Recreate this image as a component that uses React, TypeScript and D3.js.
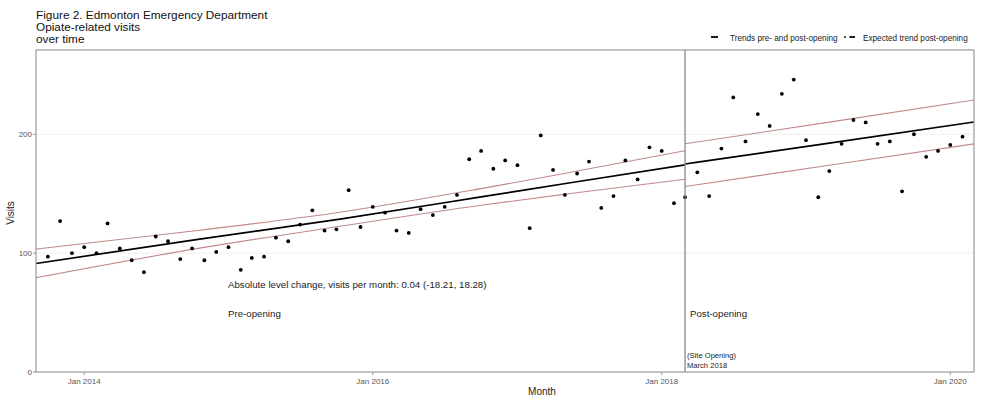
import React from "react";
import * as d3 from "d3";

// Monthly opiate-related ED visits, Oct 2013 – Feb 2020
const months: string[] = [
  "2013-10", "2013-11", "2013-12",
  "2014-01", "2014-02", "2014-03", "2014-04", "2014-05", "2014-06", "2014-07", "2014-08", "2014-09", "2014-10", "2014-11", "2014-12",
  "2015-01", "2015-02", "2015-03", "2015-04", "2015-05", "2015-06", "2015-07", "2015-08", "2015-09", "2015-10", "2015-11", "2015-12",
  "2016-01", "2016-02", "2016-03", "2016-04", "2016-05", "2016-06", "2016-07", "2016-08", "2016-09", "2016-10", "2016-11", "2016-12",
  "2017-01", "2017-02", "2017-03", "2017-04", "2017-05", "2017-06", "2017-07", "2017-08", "2017-09", "2017-10", "2017-11", "2017-12",
  "2018-01", "2018-02", "2018-03", "2018-04", "2018-05", "2018-06", "2018-07", "2018-08", "2018-09", "2018-10", "2018-11", "2018-12",
  "2019-01", "2019-02", "2019-03", "2019-04", "2019-05", "2019-06", "2019-07", "2019-08", "2019-09", "2019-10", "2019-11", "2019-12",
  "2020-01", "2020-02",
];
const visits: number[] = [
  97, 127, 100,
  105, 100, 125, 104, 94, 84, 114, 110, 95, 104, 94, 101,
  105, 86, 96, 97, 113, 110, 124, 136, 119, 120, 153, 122,
  139, 134, 119, 117, 137, 132, 139, 149, 179, 186, 171, 178,
  174, 121, 199, 170, 149, 167, 177, 138, 148, 178, 162, 189,
  186, 142, 147, 168, 148, 188, 231, 194, 217, 207, 234, 246,
  195, 147, 169, 192, 212, 210, 192, 194, 152, 200, 181, 186,
  191, 198,
];

// Fitted pre-opening trend with its confidence band
const preDates: string[] = ["2013-09-01", "2014-10-20", "2015-10-10", "2016-10-01", "2017-05-15", "2018-03-01"];
const preFit: number[] = [91.3, 111.8, 128.6, 147.3, 159.2, 174.3];
const preUpper: number[] = [103.4, 119.3, 134.4, 154.3, 168, 186.2];
const preLower: number[] = [79.3, 104.2, 122.6, 140.3, 150.2, 162.2];

// Post-opening trend with its confidence band
const postDates: string[] = ["2018-03-01", "2019-03-01", "2020-03-01"];
const postFit: number[] = [175, 192.5, 210.3];
const postUpper: number[] = [192, 210.2, 228.8];
const postLower: number[] = [156, 174, 191.9];

const yTicks: number[] = [0, 100, 200];
const xTicks: string[] = ["2014-01", "2016-01", "2018-01", "2020-01"];
const openingMonth = "2018-03";

const W = 981;
const H = 402;
const panel = { left: 36, right: 974, top: 50, bottom: 372 };

const parseMonth = d3.utcParse("%Y-%m");
const parseDay = d3.utcParse("%Y-%m-%d");
const fmt = d3.utcFormat("%b %Y");

export default function App() {
  const x = d3
    .scaleUtc()
    .domain([parseMonth("2013-09")!, parseMonth("2020-03")!])
    .range([panel.left, panel.right]);
  const y = d3.scaleLinear().domain([0, 270.9]).range([panel.bottom, panel.top]);

  const line = d3
    .line<[string, number]>()
    .x((d) => x(parseDay(d[0])!))
    .y((d) => y(d[1]))
    .curve(d3.curveMonotoneX);

  const zip = (ds: string[], vs: number[]) => ds.map((d, i) => [d, vs[i]] as [string, number]);

  const bandColor = "#c08a8a";
  const font = "'Liberation Sans', Arial, sans-serif";
  const xOpen = x(parseMonth(openingMonth)!);

  return (
    <svg width={W} height={H} style={{ position: "absolute", left: 0, top: 0, fontFamily: font }}>
      <rect x={0} y={0} width={W} height={H} fill="#fff" />
      {/* title */}
      <text x={36} y={19} fontSize={11.8} fill="#111">Figure 2. Edmonton Emergency Department</text>
      <text x={36} y={30.8} fontSize={11.8} fill="#111">Opiate-related visits</text>
      <text x={36} y={42.5} fontSize={11.8} fill="#111">over time</text>

      {/* legend */}
      <line x1={711} x2={718} y1={37} y2={37} stroke="#000" strokeWidth={1.8} />
      <text x={730} y={40.5} fontSize={8.2} fill="#222">Trends pre- and post-opening</text>
      <circle cx={845} cy={37} r={0.9} fill="#000" />
      <line x1={849.5} x2={855} y1={37} y2={37} stroke="#000" strokeWidth={1.8} />
      <text x={863} y={40.5} fontSize={8.2} fill="#222">Expected trend post-opening</text>

      {/* grid */}
      {yTicks.filter((t) => t > 0).map((t) => (
        <line key={t} x1={panel.left} x2={panel.right} y1={y(t)} y2={y(t)} stroke="#efefef" strokeWidth={1} />
      ))}

      {/* confidence bands */}
      <path d={line(zip(preDates, preUpper)) ?? ""} fill="none" stroke={bandColor} strokeWidth={1.1} />
      <path d={line(zip(preDates, preLower)) ?? ""} fill="none" stroke={bandColor} strokeWidth={1.1} />
      <path d={line(zip(postDates, postUpper)) ?? ""} fill="none" stroke={bandColor} strokeWidth={1.1} />
      <path d={line(zip(postDates, postLower)) ?? ""} fill="none" stroke={bandColor} strokeWidth={1.1} />

      {/* fitted trends */}
      <path d={line(zip(preDates, preFit)) ?? ""} fill="none" stroke="#000" strokeWidth={1.7} />
      <path d={line(zip(postDates, postFit)) ?? ""} fill="none" stroke="#000" strokeWidth={1.7} />

      {/* observed points */}
      {months.map((m, i) => (
        <circle key={m} cx={x(parseMonth(m)!)} cy={y(visits[i])} r={1.9} fill="#000" />
      ))}

      {/* opening marker */}
      <line x1={xOpen} x2={xOpen} y1={panel.top} y2={panel.bottom} stroke="#888" strokeWidth={1.3} />

      {/* annotations */}
      <text x={228} y={288} fontSize={9.7} fill="#222">Absolute level change, visits per month: 0.04 (-18.21, 18.28)</text>
      <text x={228} y={317} fontSize={9.7} fill="#222">Pre-opening</text>
      <text x={690} y={317} fontSize={9.7} fill="#222">Post-opening</text>
      <text x={687} y={358} fontSize={7.6} fill="#222">(Site Opening)</text>
      <text x={687} y={368} fontSize={7.6} fill="#222">March 2018</text>

      {/* panel border */}
      <rect x={panel.left} y={panel.top} width={panel.right - panel.left} height={panel.bottom - panel.top} fill="none" stroke="#999" strokeWidth={1.2} />

      {/* y axis */}
      {yTicks.map((t) => (
        <g key={t}>
          <line x1={panel.left - 3} x2={panel.left} y1={y(t)} y2={y(t)} stroke="#999" />
          <text x={panel.left - 4} y={y(t) + 3} fontSize={8} textAnchor="end" fill="#555">{t}</text>
        </g>
      ))}
      <text transform={`translate(14,${(panel.top + panel.bottom) / 2 + 2}) rotate(-90)`} fontSize={10} textAnchor="middle" fill="#222">Visits</text>

      {/* x axis */}
      {xTicks.map((t) => {
        const xx = x(parseMonth(t)!);
        return (
          <g key={t}>
            <line x1={xx} x2={xx} y1={panel.bottom} y2={panel.bottom + 3} stroke="#999" />
            <text x={xx} y={384} fontSize={8} textAnchor="middle" fill="#555">{fmt(parseMonth(t)!)}</text>
          </g>
        );
      })}
      <text x={(panel.left + panel.right) / 2 + 37} y={395} fontSize={10} textAnchor="middle" fill="#222">Month</text>
    </svg>
  );
}
